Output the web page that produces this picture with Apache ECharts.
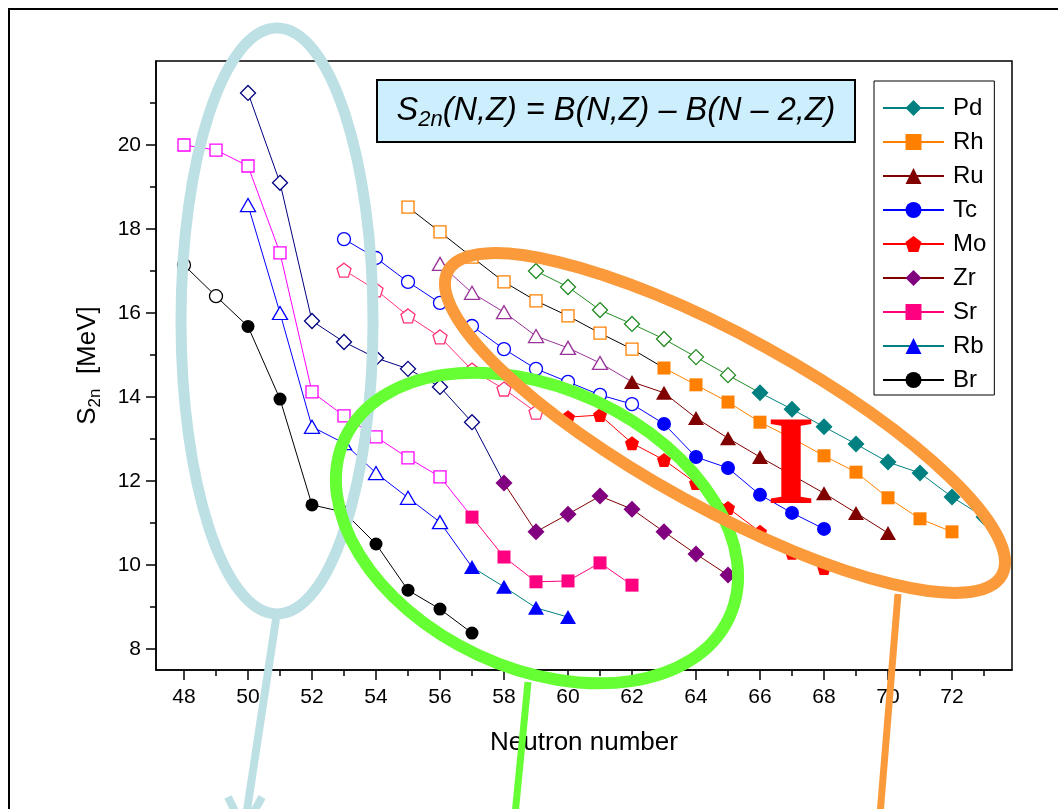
<!DOCTYPE html>
<html><head><meta charset="utf-8">
<script src="https://cdn.jsdelivr.net/npm/echarts@6/dist/echarts.min.js"></script>
<style>html,body{margin:0;padding:0;background:#fff}#c{width:1058px;height:809px}</style>
</head><body><div id="c"></div>
<script>
// ---- tick values ----
const xTicks = [48, 50, 52, 54, 56, 58, 60, 62, 64, 66, 68, 70, 72];
const xMinorTicks = [49, 51, 53, 55, 57, 59, 61, 63, 65, 67, 69, 71, 73];
const yTicks = [8, 10, 12, 14, 16, 18, 20];
const yMinorTicks = [9, 11, 13, 15, 17, 19, 21];

// ---- data: neutron number N, S2n [MeV]; filledFrom = first N drawn with filled marker ----
const pdN = [59, 60, 61, 62, 63, 64, 65, 66, 67, 68, 69, 70, 71, 72, 73];
const pdS = [17.00, 16.62, 16.07, 15.74, 15.38, 14.95, 14.52, 14.10, 13.71, 13.29, 12.88, 12.45, 12.19, 11.62, 11.14];
const pdFilledFrom = 66;

const rhN = [55, 56, 57, 58, 59, 60, 61, 62, 63, 64, 65, 66, 67, 68, 69, 70, 71, 72];
const rhS = [18.52, 17.93, 17.33, 16.74, 16.29, 15.93, 15.52, 15.14, 14.69, 14.29, 13.88, 13.40, 13.02, 12.60, 12.21, 11.60, 11.10, 10.79];
const rhFilledFrom = 63;

const ruN = [56, 57, 58, 59, 60, 61, 62, 63, 64, 65, 66, 67, 68, 69, 70];
const ruS = [17.17, 16.48, 16.02, 15.45, 15.17, 14.81, 14.36, 14.10, 13.50, 13.02, 12.57, 12.14, 11.71, 11.24, 10.76];
const ruFilledFrom = 62;

const tcN = [53, 54, 55, 56, 57, 58, 59, 60, 61, 62, 63, 64, 65, 66, 67, 68];
const tcS = [17.76, 17.31, 16.74, 16.24, 15.69, 15.14, 14.67, 14.36, 14.05, 13.83, 13.36, 12.57, 12.31, 11.67, 11.24, 10.86];
const tcFilledFrom = 63;

const moN = [53, 54, 55, 56, 57, 58, 59, 60, 61, 62, 63, 64, 65, 66, 67, 68];
const moS = [17.02, 16.55, 15.93, 15.43, 14.64, 14.19, 13.64, 13.52, 13.57, 12.90, 12.50, 11.95, 11.36, 10.79, 10.29, 9.93];
const moFilledFrom = 60;

const zrN = [50, 51, 52, 53, 54, 55, 56, 57, 58, 59, 60, 61, 62, 63, 64, 65];
const zrS = [21.24, 19.10, 15.81, 15.31, 14.93, 14.67, 14.24, 13.40, 11.95, 10.79, 11.21, 11.64, 11.33, 10.79, 10.26, 9.76];
const zrFilledFrom = 58;

const srN = [48, 49, 50, 51, 52, 53, 54, 55, 56, 57, 58, 59, 60, 61, 62];
const srS = [20.00, 19.88, 19.50, 17.43, 14.12, 13.55, 13.05, 12.55, 12.10, 11.14, 10.19, 9.60, 9.62, 10.05, 9.52];
const srFilledFrom = 57;

const rbN = [50, 51, 52, 53, 54, 55, 56, 57, 58, 59, 60];
const rbS = [18.57, 16.00, 13.29, 12.90, 12.19, 11.60, 11.02, 9.95, 9.48, 8.98, 8.76];
const rbFilledFrom = 57;

const brN = [48, 49, 50, 51, 52, 53, 54, 55, 56, 57];
const brS = [17.14, 16.40, 15.68, 13.95, 11.43, 11.26, 10.50, 9.40, 8.95, 8.38];
const brFilledFrom = 50;

const legendNames = ['Pd', 'Rh', 'Ru', 'Tc', 'Mo', 'Zr', 'Sr', 'Rb', 'Br'];

const FONT = "'Liberation Sans', Arial, sans-serif";
const pentagon = 'path://M0,-1 L0.951,-0.309 L0.588,0.809 L-0.588,0.809 L-0.951,-0.309 Z';

function build(name, N, S, from, sym, size, fsize, openC, openLine, fillC, fillLine) {
  const openData = [], fillData = [];
  for (let i = 0; i < N.length; i++) {
    if (N[i] < from) openData.push([N[i], S[i]]);
    else if (N[i] === from) {
      openData.push({ value: [N[i], S[i]], symbol: 'none' });
      fillData.push([N[i], S[i]]);
    } else fillData.push([N[i], S[i]]);
  }
  return [
    { name: name + ' open', type: 'line', data: openData, symbol: sym, symbolSize: size, z: 2,
      silent: true, lineStyle: { color: openLine, width: 1 },
      itemStyle: { color: '#ffffff', borderColor: openC, borderWidth: 1.3 } },
    { name: name, type: 'line', data: fillData, symbol: sym, symbolSize: fsize, z: 3,
      silent: true, lineStyle: { color: fillLine, width: 1 },
      itemStyle: { color: fillC, borderWidth: 0 } }
  ];
}

const series = [].concat(
  build('Br', brN, brS, brFilledFrom, 'circle', 13, 13, '#000000', '#000000', '#000000', '#000000'),
  build('Rb', rbN, rbS, rbFilledFrom, 'triangle', [15, 13], [16, 14], '#0000ff', '#0000ff', '#0000ff', '#008080'),
  build('Sr', srN, srS, srFilledFrom, 'rect', 12, 13, '#ff00ff', '#ff00ff', '#ff0080', '#ff0080'),
  build('Zr', zrN, zrS, zrFilledFrom, 'diamond', [15, 15], [17, 17], '#000080', '#000080', '#800080', '#800000'),
  build('Mo', moN, moS, moFilledFrom, pentagon, 14, 14, '#ff3377', '#ff3377', '#ff0000', '#ff0000'),
  build('Tc', tcN, tcS, tcFilledFrom, 'circle', 13, 14, '#0000ff', '#0000ff', '#0000ff', '#0000ff'),
  build('Ru', ruN, ruS, ruFilledFrom, 'triangle', [15, 13], [16, 14], '#993399', '#993399', '#800000', '#800000'),
  build('Rh', rhN, rhS, rhFilledFrom, 'rect', 12, 13, '#ff8000', '#000000', '#ff8000', '#ff8000'),
  build('Pd', pdN, pdS, pdFilledFrom, 'diamond', [15, 15], [17, 17], '#228b22', '#228b22', '#008080', '#008080')
);

const axisCommon = {
  type: 'value',
  splitLine: { show: false },
};

const chart = echarts.init(document.getElementById('c'), null, { renderer: 'canvas' });
chart.setOption({
  animation: false,
  backgroundColor: '#ffffff',
  grid: { left: 156, right: 46, top: 61, bottom: 139, show: true, borderColor: '#000', borderWidth: 1.5,
          containLabel: false, outerBoundsMode: 'none' },
  xAxis: [
    Object.assign({}, axisCommon, {
      min: 47.125, max: 73.875, position: 'bottom',
      axisLine: { show: true, lineStyle: { color: '#000', width: 1.5 } },
      axisTick: { show: true, customValues: xTicks, length: 10, lineStyle: { color: '#000', width: 1.5 } },
      axisLabel: { customValues: xTicks, fontSize: 21, color: '#000', margin: 17, fontFamily: FONT },
      name: 'Neutron number', nameLocation: 'middle', nameGap: 60,
      nameTextStyle: { fontSize: 26, color: '#000', fontFamily: FONT }
    }),
    Object.assign({}, axisCommon, {
      min: 47.125, max: 73.875, position: 'bottom',
      axisLine: { show: false },
      axisTick: { show: true, customValues: xMinorTicks, length: 6, lineStyle: { color: '#000', width: 1.5 } },
      axisLabel: { show: false }
    })
  ],
  yAxis: [
    Object.assign({}, axisCommon, {
      min: 7.5, max: 22, position: 'left',
      axisLine: { show: true, lineStyle: { color: '#000', width: 1.5 } },
      axisTick: { show: true, customValues: yTicks, length: 10, lineStyle: { color: '#000', width: 1.5 } },
      axisLabel: { customValues: yTicks, fontSize: 21, color: '#000', margin: 15, fontFamily: FONT },
      name: '{a|S}{b|2n}{a|  [MeV]}', nameLocation: 'middle', nameGap: 52, nameRotate: 90,
      nameTextStyle: { color: '#000', fontFamily: FONT,
        rich: { a: { fontSize: 26, lineHeight: 32, fontFamily: FONT, color: '#000' },
                b: { fontSize: 17, lineHeight: 17, verticalAlign: 'bottom', fontFamily: FONT, color: '#000' } } }
    }),
    Object.assign({}, axisCommon, {
      min: 7.5, max: 22, position: 'left', offset: 0,
      axisLine: { show: false },
      axisTick: { show: true, customValues: yMinorTicks, length: 6, lineStyle: { color: '#000', width: 1.5 } },
      axisLabel: { show: false }
    })
  ],
  legend: {
    data: legendNames, orient: 'vertical', left: 874, top: 81,
    padding: [15, 8, 3, 8], itemWidth: 61, itemHeight: 20, itemGap: 10,
    borderColor: '#000', borderWidth: 1, backgroundColor: '#fff', selectedMode: false,
    textStyle: { fontSize: 24, fontFamily: FONT, color: '#000', padding: [0, 0, 0, 4] }
  },
  graphic: [
    { type: 'rect', z: 0, silent: true, shape: { x: 9, y: 9, width: 1200, height: 1000 },
      style: { fill: 'none', stroke: '#000', lineWidth: 2 } },
    { type: 'rect', z: 50, silent: true, shape: { x: 377, y: 80, width: 478, height: 62 },
      style: { fill: '#cdeefc', stroke: '#000', lineWidth: 2 } },
    { type: 'text', z: 51, silent: true, x: 616, y: 111,
      style: { text: '{a|S}{b|2n}{a|(N,Z) = B(N,Z) – B(N – 2,Z)}', align: 'center', verticalAlign: 'middle',
        rich: { a: { fontSize: 32.5, fontStyle: 'italic', fontFamily: FONT, lineHeight: 40, fill: '#000' },
                b: { fontSize: 22, fontStyle: 'italic', fontFamily: FONT, lineHeight: 21, verticalAlign: 'bottom', fill: '#000' } } } },
    // light blue ellipse + arrow
    { type: 'ellipse', z: 60, silent: true, shape: { cx: 277, cy: 321, rx: 96, ry: 293 },
      style: { fill: 'none', stroke: '#bde0e4', lineWidth: 11 } },
    { type: 'line', z: 60, silent: true, shape: { x1: 276, y1: 619, x2: 244, y2: 830 },
      style: { stroke: '#bde0e4', lineWidth: 8 } },
    { type: 'polyline', z: 60, silent: true, shape: { points: [[228, 797], [244, 830], [262, 797]] },
      style: { fill: 'none', stroke: '#bde0e4', lineWidth: 8 } },
    // green ellipse + line
    { type: 'ellipse', z: 61, silent: true, shape: { cx: 537, cy: 528, rx: 212, ry: 140 },
      originX: 537, originY: 528, rotation: -25 * Math.PI / 180,
      style: { fill: 'none', stroke: '#66ff33', lineWidth: 12 } },
    { type: 'line', z: 61, silent: true, shape: { x1: 528, y1: 682, x2: 515, y2: 815 },
      style: { stroke: '#66ff33', lineWidth: 7 } },
    // orange ellipse + line
    { type: 'ellipse', z: 62, silent: true, shape: { cx: 725, cy: 423, rx: 316, ry: 86 },
      originX: 725, originY: 423, rotation: -28.8 * Math.PI / 180,
      style: { fill: 'none', stroke: '#fb9a3a', lineWidth: 12 } },
    { type: 'line', z: 62, silent: true, shape: { x1: 898, y1: 594, x2: 880, y2: 815 },
      style: { stroke: '#fb9a3a', lineWidth: 7 } },
    // red I
    { type: 'text', z: 63, silent: true, x: 791, y: 470,
      style: { text: 'I', fontSize: 126, fontWeight: 'bold', fontFamily: "'Liberation Serif', 'Times New Roman', serif",
               fill: '#ff0000', align: 'center', verticalAlign: 'middle' } }
  ],
  series: series
});
</script>
</body></html>
